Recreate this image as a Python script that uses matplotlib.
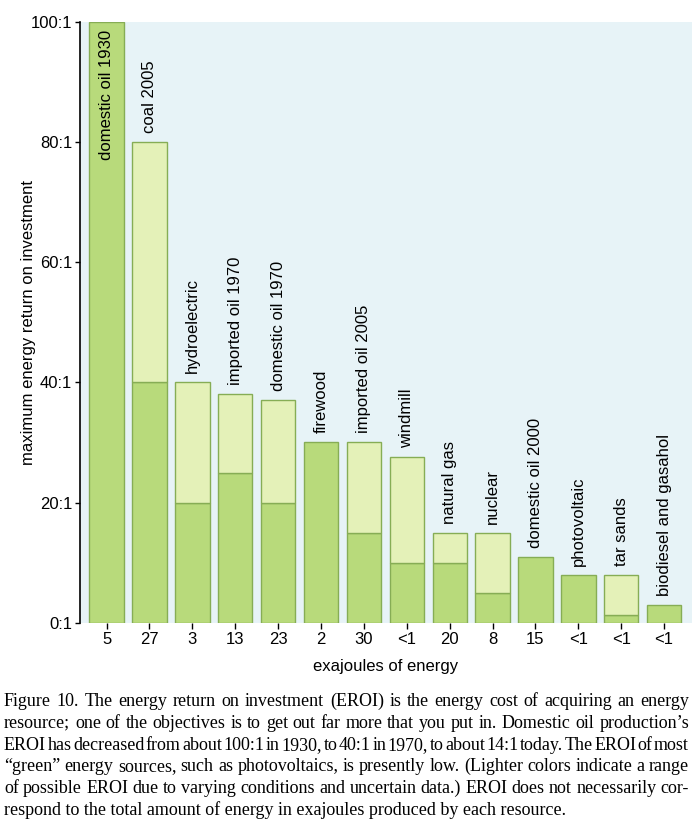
import matplotlib
matplotlib.use('Agg')
import matplotlib.pyplot as plt
import numpy as np

plt.rcParams['font.family'] = ['Liberation Sans', 'DejaVu Sans']

SOURCES = ['domestic oil 1930', 'coal 2005', 'hydroelectric', 'imported oil 1970',
           'domestic oil 1970', 'firewood', 'imported oil 2005', 'windmill',
           'natural gas', 'nuclear', 'domestic oil 2000', 'photovoltaic',
           'tar sands', 'biodiesel and gasahol']
EXAJOULES = ['5', '27', '3', '13', '23', '2', '30', '<1', '20', '8', '15', '<1', '<1', '<1']
# lower bound of the EROI range (dark) and upper bound (light)
EROI_LOW = [100, 40, 20, 25, 20, 30, 15, 10, 10, 5, 11, 8, 1.3, 3]
EROI_HIGH = [100, 80, 40, 38, 37, 30, 30, 27.6, 15, 15, 11, 8, 8, 3]
YTICKS = [0, 20, 40, 60, 80, 100]
YTICK_LABELS = ['0:1', '20:1', '40:1', '60:1', '80:1', '100:1']

CAPTION = [
  'Figure 10. The energy return on investment (EROI) is the energy cost of acquiring an energy',
  'resource; one of the objectives is to get out far more that you put in. Domestic oil production\u2019s',
  'EROI has decreased from about 100:1 in 1930, to 40:1 in 1970, to about 14:1 today. The EROI of most',
  '\u201cgreen\u201d energy sources, such as photovoltaics, is presently low. (Lighter colors indicate  a range',
  'of possible EROI due to varying conditions and uncertain data.) EROI does not necessarily cor-',
  'respond to the total amount of energy in exajoules produced by each resource.',
]

DARK = '#b8da7b'
LIGHT = '#e4f1b8'
EDGE = '#86ad55'
BACK = '#e7f3f7'


def justify(fig, line, y, x0, x1, **kw):
  renderer = fig.canvas.get_renderer()
  words = line.split()
  texts = [fig.text(x0, y, w, ha='left', va='baseline', **kw) for w in words]
  widths = [t.get_window_extent(renderer).width / fig.bbox.width for t in texts]
  gap = (x1 - x0 - sum(widths)) / (len(words) - 1)
  x = x0
  for txt, wid in zip(texts, widths):
    txt.set_x(x)
    x += wid + gap


def main():
  fig = plt.figure(figsize=(7, 8.27), dpi=100)
  axis = fig.add_axes([80 / 700, 1 - 622.7 / 827, 612 / 700, 600.7 / 827])
  axis.set_facecolor(BACK)

  pos = np.arange(len(SOURCES))
  low = np.array(EROI_LOW)
  high = np.array(EROI_HIGH)
  axis.bar(pos, low, width=0.8, color=DARK, edgecolor=EDGE, linewidth=1, zorder=2)
  rng = high - low
  mask = rng > 0
  axis.bar(pos[mask], rng[mask], bottom=low[mask], width=0.8, color=LIGHT,
           edgecolor=EDGE, linewidth=1, zorder=2)

  for idx, name in enumerate(SOURCES):
    if high[idx] >= 99:
      axis.text(pos[idx], high[idx] - 1.3, name, rotation=90, ha='center', va='top',
                fontsize=12, zorder=3)
    else:
      axis.text(pos[idx], high[idx] + 1.5, name, rotation=90, ha='center', va='bottom',
                fontsize=12, zorder=3)

  axis.set_xlim(-0.62, len(SOURCES) - 1 + 0.65)
  axis.set_ylim(0, 100)
  axis.set_xticks(pos)
  axis.set_xticklabels(EXAJOULES, fontsize=12)
  axis.set_yticks(YTICKS)
  axis.set_yticklabels(YTICK_LABELS, fontsize=12)
  axis.tick_params(axis='x', length=4.5, width=1, pad=2.5)
  axis.tick_params(axis='y', length=3.5, width=1, pad=2)
  for side in ('top', 'right', 'bottom'):
    axis.spines[side].set_visible(False)
  axis.spines['left'].set_linewidth(1.2)

  axis.set_ylabel('maximum energy return on investment', fontsize=12, labelpad=-3.5)
  fig.text(386 / 700, 1 - 666 / 827, 'exajoules of energy', ha='center', va='center',
           fontsize=12)

  x0, x1 = 4 / 700, 689 / 700
  for num, line in enumerate(CAPTION):
    y = 1 - (706 + num * 21.8) / 827
    if num == len(CAPTION) - 1:
      fig.text(x0, y, line, ha='left', va='baseline', fontsize=13, family='Liberation Serif')
    else:
      justify(fig, line, y, x0, x1, fontsize=13, family='Liberation Serif')

  fig.savefig('out.png', dpi=100)


if __name__ == '__main__':
  main()
